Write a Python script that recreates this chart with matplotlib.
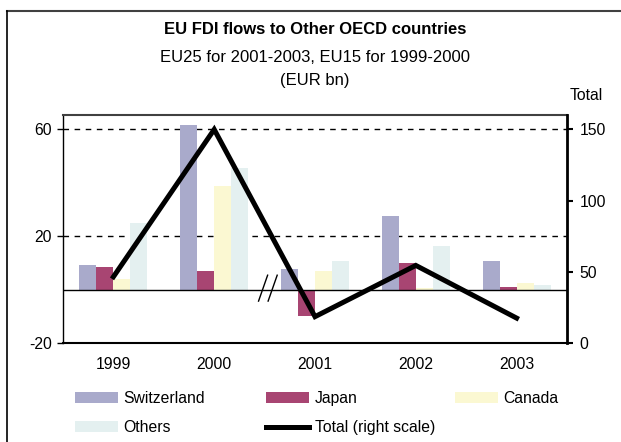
import numpy as np
import matplotlib.pyplot as plt
from matplotlib.patches import Patch
from matplotlib.lines import Line2D

plt.rcParams['font.family'] = ['Liberation Sans', 'DejaVu Sans']

years = ['1999', '2000', '2001', '2002', '2003']
switzerland = [9.2, 61.5, 7.7, 27.5, 10.7]
japan = [8.3, 6.9, -9.8, 9.9, 0.9]
canada = [3.9, 38.7, 6.9, 0.7, 2.4]
others = [25.1, 45.7, 10.7, 16.3, 1.8]
total = [46.5, 150.0, 18.5, 54.5, 17.5]

series_names = ['Switzerland', 'Japan', 'Canada', 'Others']
series_colors = ['#a9aacb', '#a84572', '#fbf8d2', '#e4f0f0']

fig = plt.figure(figsize=(6.21, 4.42), dpi=100)
ax = fig.add_axes([63 / 621, 1 - 343 / 442, 504 / 621, (343 - 114.5) / 442])

x = np.arange(len(years))
w = 0.169
for i, (vals, c) in enumerate(zip([switzerland, japan, canada, others], series_colors)):
    ax.bar(x + (i - 1.5) * w, vals, width=w, color=c, zorder=2)

ax.set_xlim(-0.5, len(years) - 0.5)
ax.set_ylim(-20, 65.6)
ax.set_yticks([-20, 20, 60])
ax.set_yticklabels(['-20', '20', '60'])
for yv in [20, 60]:
    ax.axhline(yv, color='black', lw=1, ls=(0, (4, 4)), zorder=1)
ax.axhline(0, color='black', lw=1, zorder=3)

ax.set_xticks(x)
ax.set_xticklabels(years)
ax.tick_params(axis='x', length=0, pad=10, labelsize=11.3)
ax.tick_params(axis='y', length=4, width=1, pad=4, labelsize=11.3, direction='out')
ax.spines['top'].set_color('#404040')
ax.spines['top'].set_linewidth(1.5)
ax.spines['left'].set_linewidth(1)
ax.spines['bottom'].set_linewidth(1.5)
ax.spines['right'].set_visible(False)

# break marks on zero line between 2000 and 2001
for dx in [0.0, 0.095]:
    ax.plot([1.44 + dx, 1.53 + dx], [-4.3, 5.4], color='black', lw=1, zorder=4)

ax2 = ax.twinx()
ax2.plot(x, total, color='black', lw=3.6, solid_joinstyle='miter', zorder=5)
ax2.set_ylim(0, 160.5)
ax2.set_yticks([0, 50, 100, 150])
ax2.tick_params(axis='y', length=4, width=1.5, pad=5, labelsize=11.3, direction='out')
for s in ['top', 'left', 'bottom']:
    ax2.spines[s].set_visible(False)
ax2.spines['right'].set_linewidth(2)

fig.text(586 / 621, 1 - 95 / 442, 'Total', ha='center', va='center', fontsize=11.3)

fig.text(315 / 621, 1 - 30 / 442, 'EU FDI flows to Other OECD countries',
         ha='center', va='center', fontsize=12, fontweight='bold')
fig.text(315 / 621, 1 - 58 / 442, 'EU25 for 2001-2003, EU15 for 1999-2000',
         ha='center', va='center', fontsize=12)
fig.text(315 / 621, 1 - 80 / 442, '(EUR bn)', ha='center', va='center', fontsize=12)

# outer frame (top and left only)
fig.add_artist(Line2D([6.5 / 621, 1], [1 - 11 / 442, 1 - 11 / 442], color='#404040', lw=1.5,
                      transform=fig.transFigure))
fig.add_artist(Line2D([6.5 / 621, 6.5 / 621], [0, 1 - 11 / 442], color='black', lw=1.2,
                      transform=fig.transFigure))

handles = [Patch(facecolor=c, edgecolor='none') for c in series_colors]
line_handle = Line2D([], [], color='black', lw=3.6)
columns = [
    ([handles[0], handles[3]], ['Switzerland', 'Others'], 75),
    ([handles[1], line_handle], ['Japan', 'Total (right scale)'], 266),
    ([handles[2]], ['Canada'], 455),
]
for hs, labels, px in columns:
    fig.legend(hs, labels, loc='upper left', bbox_to_anchor=(px / 621, 1 - 391 / 442),
               frameon=False, fontsize=11.3, handlelength=2.75, handleheight=0.72,
               handletextpad=0.35, labelspacing=0.9, borderpad=0, borderaxespad=0)

fig.savefig('out.png', dpi=100)
